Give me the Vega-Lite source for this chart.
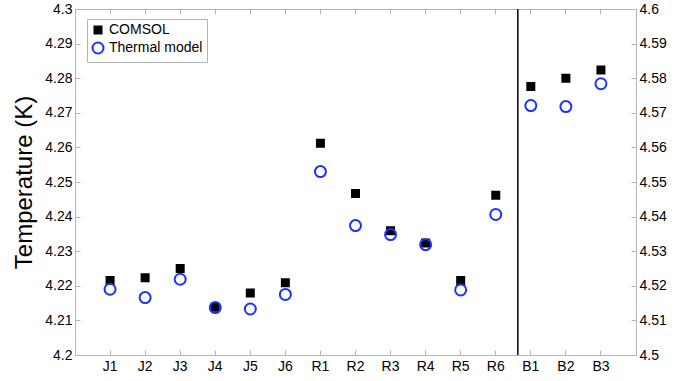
{
  "$schema": "https://vega.github.io/schema/vega-lite/v6.json",
  "width": 561,
  "height": 346,
  "autosize": {"type": "none"},
  "padding": {"left": 75, "top": 9, "right": 56, "bottom": 26},
  "config": {
    "view": {"stroke": null},
    "font": "Liberation Sans",
    "axis": {
      "grid": false,
      "domainColor": "#b5b5b5",
      "tickColor": "#b5b5b5",
      "tickSize": -5,
      "labelColor": "black",
      "labelFont": "Liberation Sans",
      "labelFontSize": 14,
      "titleFont": "Liberation Sans",
      "titleColor": "black",
      "titleFontWeight": "normal"
    }
  },
  "data": {
    "values": [
      {"name": "J1", "model": "COMSOL", "group": "main", "T": 4.2215},
      {"name": "J2", "model": "COMSOL", "group": "main", "T": 4.2223},
      {"name": "J3", "model": "COMSOL", "group": "main", "T": 4.2250},
      {"name": "J4", "model": "COMSOL", "group": "main", "T": 4.2138},
      {"name": "J5", "model": "COMSOL", "group": "main", "T": 4.2179},
      {"name": "J6", "model": "COMSOL", "group": "main", "T": 4.2209},
      {"name": "R1", "model": "COMSOL", "group": "main", "T": 4.2612},
      {"name": "R2", "model": "COMSOL", "group": "main", "T": 4.2467},
      {"name": "R3", "model": "COMSOL", "group": "main", "T": 4.2359},
      {"name": "R4", "model": "COMSOL", "group": "main", "T": 4.2324},
      {"name": "R5", "model": "COMSOL", "group": "main", "T": 4.2215},
      {"name": "R6", "model": "COMSOL", "group": "main", "T": 4.2462},
      {"name": "B1", "model": "COMSOL", "group": "B", "T": 4.5776},
      {"name": "B2", "model": "COMSOL", "group": "B", "T": 4.5800},
      {"name": "B3", "model": "COMSOL", "group": "B", "T": 4.5824},
      {"name": "J1", "model": "Thermal model", "group": "main", "T": 4.2190},
      {"name": "J2", "model": "Thermal model", "group": "main", "T": 4.2166},
      {"name": "J3", "model": "Thermal model", "group": "main", "T": 4.2219},
      {"name": "J4", "model": "Thermal model", "group": "main", "T": 4.2137},
      {"name": "J5", "model": "Thermal model", "group": "main", "T": 4.2133},
      {"name": "J6", "model": "Thermal model", "group": "main", "T": 4.2175},
      {"name": "R1", "model": "Thermal model", "group": "main", "T": 4.2530},
      {"name": "R2", "model": "Thermal model", "group": "main", "T": 4.2374},
      {"name": "R3", "model": "Thermal model", "group": "main", "T": 4.2348},
      {"name": "R4", "model": "Thermal model", "group": "main", "T": 4.2319},
      {"name": "R5", "model": "Thermal model", "group": "main", "T": 4.2188},
      {"name": "R6", "model": "Thermal model", "group": "main", "T": 4.2406},
      {"name": "B1", "model": "Thermal model", "group": "B", "T": 4.5721},
      {"name": "B2", "model": "Thermal model", "group": "B", "T": 4.5718},
      {"name": "B3", "model": "Thermal model", "group": "B", "T": 4.5784}
    ]
  },
  "layer": [
    {
      "transform": [{"filter": "datum.group === 'main'"}],
      "mark": {"type": "point", "strokeWidth": 2, "opacity": 1},
      "encoding": {
        "x": {
          "field": "name", "type": "nominal",
          "scale": {"type": "band", "paddingInner": 0, "paddingOuter": 0.5,
            "domain": ["J1","J2","J3","J4","J5","J6","R1","R2","R3","R4","R5","R6","B1","B2","B3"]},
          "axis": {"orient": "bottom", "title": null, "labelAngle": 0, "labelPadding": 9, "domain": true, "ticks": true}
        },
        "y": {
          "field": "T", "type": "quantitative",
          "scale": {"domain": [4.2, 4.3], "nice": false, "zero": false},
          "axis": {"orient": "left", "title": "Temperature (K)", "titleFontSize": 24, "titlePadding": 8,
            "values": [4.2,4.21,4.22,4.23,4.24,4.25,4.26,4.27,4.28,4.29,4.3], "format": "~g", "labelPadding": 8}
        },
        "shape": {"field": "model", "type": "nominal",
          "scale": {"domain": ["COMSOL", "Thermal model"], "range": ["square", "circle"]},
          "legend": {"orient": "none", "legendX": 12, "legendY": 10, "title": null,
            "strokeColor": "#b5b5b5", "fillColor": "white", "padding": 4, "rowPadding": 0,
            "labelFontSize": 14, "labelFont": "Liberation Sans", "labelColor": "black", "labelOffset": 4, "symbolStrokeWidth": 2}},
        "fill": {"field": "model", "type": "nominal",
          "scale": {"domain": ["COMSOL", "Thermal model"], "range": ["black", "transparent"]}},
        "stroke": {"field": "model", "type": "nominal",
          "scale": {"domain": ["COMSOL", "Thermal model"], "range": ["black", "#1a33ff"]}},
        "size": {"field": "model", "type": "nominal",
          "scale": {"domain": ["COMSOL", "Thermal model"], "range": [49, 121]}}
      }
    },
    {
      "transform": [{"filter": "datum.group === 'B'"}],
      "mark": {"type": "point", "strokeWidth": 2, "opacity": 1},
      "encoding": {
        "x": {
          "field": "name", "type": "nominal",
          "scale": {"type": "band", "paddingInner": 0, "paddingOuter": 0.5,
            "domain": ["J1","J2","J3","J4","J5","J6","R1","R2","R3","R4","R5","R6","B1","B2","B3"]},
          "axis": {"orient": "top", "title": null, "labels": false, "domain": true, "ticks": true}
        },
        "y": {
          "field": "T", "type": "quantitative",
          "scale": {"domain": [4.5, 4.6], "nice": false, "zero": false},
          "axis": {"orient": "right", "title": null,
            "values": [4.5,4.51,4.52,4.53,4.54,4.55,4.56,4.57,4.58,4.59,4.6], "format": "~g", "labelPadding": 8}
        },
        "shape": {"field": "model", "type": "nominal"},
        "fill": {"field": "model", "type": "nominal"},
        "stroke": {"field": "model", "type": "nominal"},
        "size": {"field": "model", "type": "nominal"}
      }
    },
    {
      "data": {"values": [{"name": "R6"}]},
      "mark": {"type": "rule", "color": "black", "strokeWidth": 1.5},
      "encoding": {
        "x": {"field": "name", "type": "nominal", "bandPosition": 1.13,
          "scale": {"type": "band", "paddingInner": 0, "paddingOuter": 0.5,
            "domain": ["J1","J2","J3","J4","J5","J6","R1","R2","R3","R4","R5","R6","B1","B2","B3"]},
          "axis": null}
      }
    }
  ],
  "resolve": {"scale": {"y": "independent"}, "axis": {"x": "independent", "y": "independent"}}
}
